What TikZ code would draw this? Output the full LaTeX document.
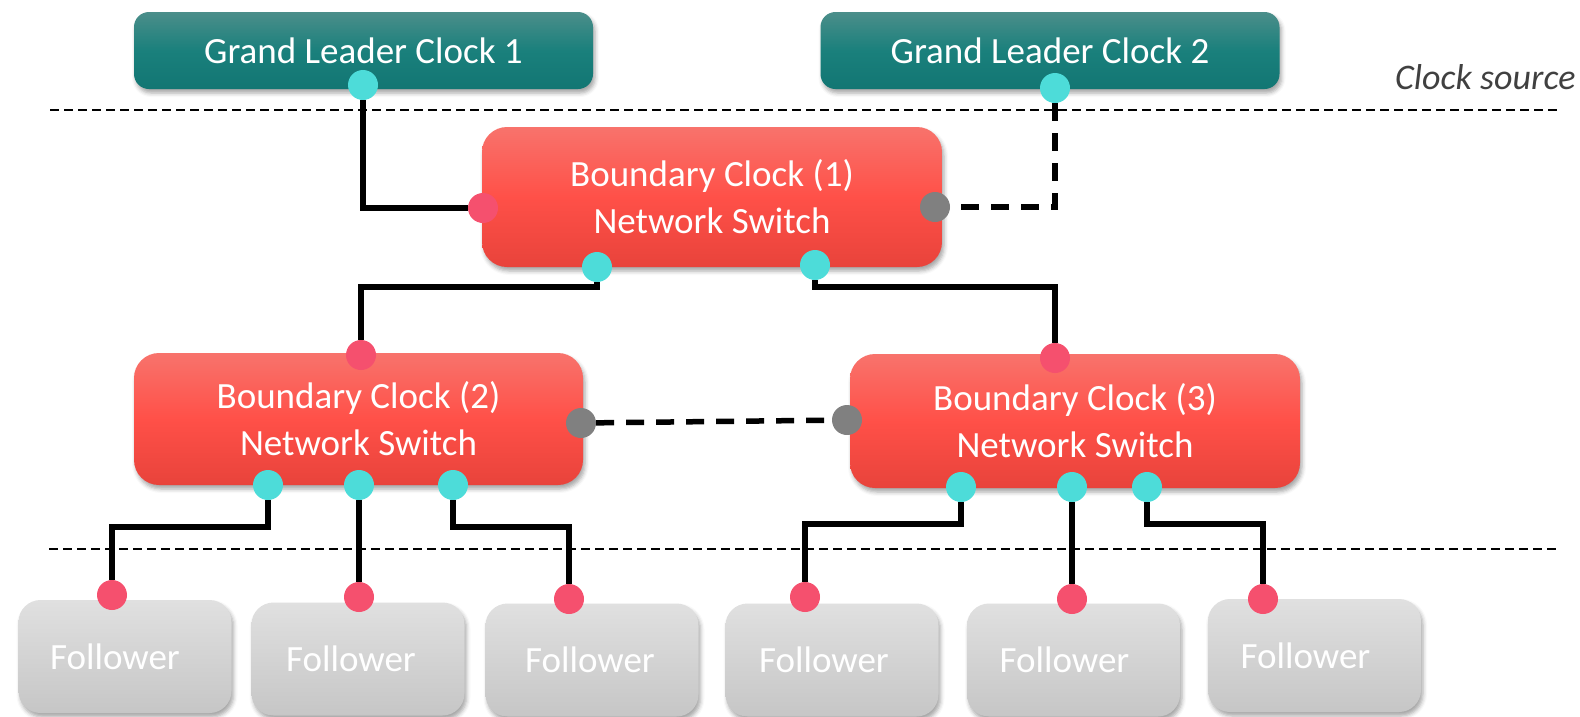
\documentclass[tikz,border=0pt]{standalone}
\usepackage{fontspec}
\setmainfont{Carlito}
\usetikzlibrary{shadows.blur,calc}
\definecolor{tealtop}{HTML}{4B8E8A}
\definecolor{tealmid}{HTML}{1A807C}
\definecolor{tealbot}{HTML}{127673}
\definecolor{redtop}{HTML}{F8736C}
\definecolor{redmid}{HTML}{FF5048}
\definecolor{redbot}{HTML}{E8433B}
\definecolor{fltop}{HTML}{E0E0E0}
\definecolor{flbot}{HTML}{C6C6C6}
\definecolor{portcyan}{HTML}{4DDCD9}
\definecolor{portpink}{HTML}{F5506E}
\definecolor{portgray}{HTML}{808080}
\definecolor{srctext}{HTML}{404040}
\tikzset{
  shad/.style={blur shadow={shadow xshift=2pt, shadow yshift=-4pt, shadow blur radius=4pt, shadow opacity=35}},
  glbox/.style={shad, rectangle, rounded corners=15pt, minimum width=459pt, minimum height=77pt,
     top color=tealtop, bottom color=tealbot, middle color=tealmid, text=white,
     font=\fontsize{37}{44}\selectfont, inner sep=0pt},
  bcbox/.style={shad, rectangle, rounded corners=25pt, minimum height=134pt,
     top color=redtop, bottom color=redbot, middle color=redmid, text=white, align=center,
     font=\fontsize{37}{47}\selectfont, inner sep=0pt},
  flbox/.style={shad, rectangle, rounded corners=22pt, minimum width=213pt, minimum height=113pt,
     top color=fltop, bottom color=flbot, text=white,
     font=\fontsize{37}{44}\selectfont, inner sep=0pt},
  port/.style={circle, minimum size=30pt, inner sep=0pt, draw=none},
  pc/.style={port, fill=portcyan},
  pp/.style={port, fill=portpink},
  pg/.style={port, fill=portgray},
  conn/.style={line width=5.5pt, black},
  dconn/.style={line width=5.5pt, black, dash pattern=on 18pt off 12pt},
  sepline/.style={line width=2.4pt, black, dash pattern=on 9pt off 5pt},
}
\begin{document}
\begin{tikzpicture}[x=1pt,y=-1pt]
\useasboundingbox (0,0) rectangle (1580,716);
% separators
\coordinate (s1a) at (50,110);
\coordinate (s1b) at (1559,110);
\coordinate (s2a) at (49,549);
\coordinate (s2b) at (1557,549);
\draw[sepline] (s1a) -- (s1b);
\draw[sepline] (s2a) -- (s2b);
\node[anchor=east, text=srctext, font=\fontsize{36}{44}\selectfont\itshape] (src) at (1579,77) {Clock source};
% boxes
\node[glbox] (gl1) at (363.5,50.5) {Grand Leader Clock 1};
\node[glbox] (gl2) at (1050,50.5) {Grand Leader Clock 2};
\node[bcbox, minimum width=460pt, minimum height=140pt] (bc1) at (712,197) {Boundary Clock (1)\\Network Switch};
\node[bcbox, minimum width=449pt, minimum height=132pt] (bc2) at (358.5,419) {Boundary Clock (2)\\Network Switch};
\node[bcbox, minimum width=450pt] (bc3) at (1075,421) {Boundary Clock (3)\\Network Switch};
\node[flbox, text depth=-6pt] (f1) at (125,656.5) {\hspace*{-20pt}Follower};
\node[flbox, text depth=-6pt] (f2) at (358,659) {\hspace*{-14pt}Follower};
\node[flbox, text depth=-6pt] (f3) at (592,660) {\hspace*{-4pt}Follower};
\node[flbox, text depth=-6pt] (f4) at (832,660) {\hspace*{-16pt}Follower};
\node[flbox, text depth=-6pt] (f5) at (1073.5,660) {\hspace*{-18pt}Follower};
\node[flbox] (f6) at (1314.5,655.5) {\hspace*{-18pt}Follower};
% ports
\node[pc] (gl1p) at (363,85) {};
\node[pc] (gl2p) at (1055,88) {};
\node[pp] (bc1l) at (483,208) {};
\node[pg] (bc1g) at (935,207) {};
\node[pc] (bc1a) at (597,267) {};
\node[pc] (bc1b) at (815,265) {};
\node[pp] (bc2t) at (361,355) {};
\node[pg] (bc2g) at (581,423) {};
\node[pc] (bc2a) at (268,485) {};
\node[pc] (bc2b) at (359,485) {};
\node[pc] (bc2c) at (453,485) {};
\node[pp] (bc3t) at (1055,358) {};
\node[pg] (bc3g) at (847,420) {};
\node[pc] (bc3a) at (961,487) {};
\node[pc] (bc3b) at (1072,487) {};
\node[pc] (bc3c) at (1147,487) {};
\node[pp] (f1p) at (112,595) {};
\node[pp] (f2p) at (359,597) {};
\node[pp] (f3p) at (569,599) {};
\node[pp] (f4p) at (805,597) {};
\node[pp] (f5p) at (1072,599) {};
\node[pp] (f6p) at (1263,599) {};
% connectors
\draw[conn] (gl1p) |- (bc1l);
\draw[dconn] (gl2p) |- (bc1g);
\draw[conn] (bc1a) -- ++(0,20) -| (bc2t);
\draw[conn] (bc1b) -- ++(0,22) -| (bc3t);
\draw[dconn] (bc2g) -- (bc3g);
\draw[conn] (bc2a) -- ++(0,42) -| (f1p);
\draw[conn] (bc2b) -- (f2p);
\draw[conn] (bc2c) -- ++(0,42) -| (f3p);
\draw[conn] (bc3a) -- ++(0,37) -| (f4p);
\draw[conn] (bc3b) -- (f5p);
\draw[conn] (bc3c) -- ++(0,37) -| (f6p);
\end{tikzpicture}
\end{document}
